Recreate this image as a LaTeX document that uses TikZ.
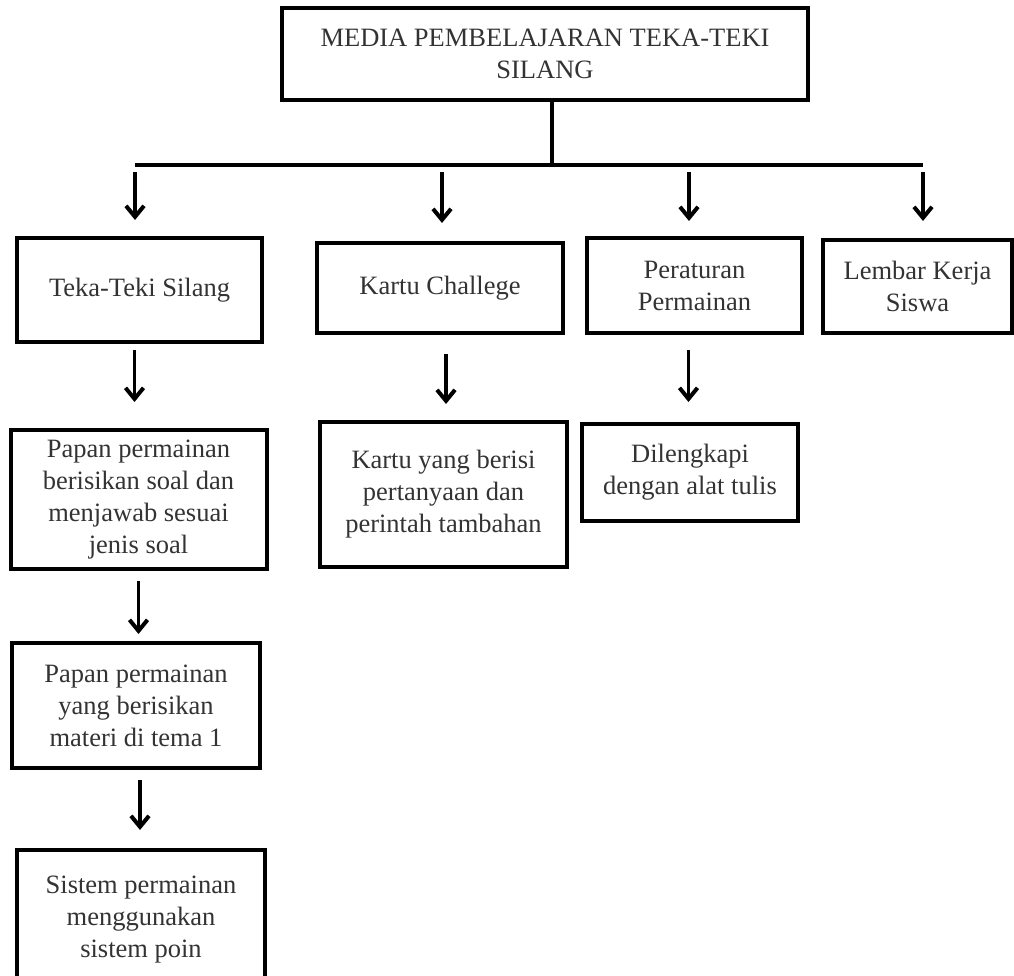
\documentclass[tikz,border=0pt]{standalone}
\usepackage{fontspec}
\setmainfont{Liberation Serif}
\usetikzlibrary{arrows.meta,positioning}
\begin{document}
\begin{tikzpicture}[x=1pt, y=-1pt, >={Straight Barb[length=11pt,width=18pt,line width=4pt]}]
        \tikzstyle{box} = [draw, line width=4pt, rectangle, align=center, inner sep=0pt, text=black!80, font=\fontsize{26.5}{32}\selectfont];
        \tikzstyle{link} = [line width=3.5pt];
        \tikzstyle{arrow} = [->, line width=3.5pt];

        \clip (0,0) rectangle (1014,976);

        \node(media)[box, minimum width=526pt, minimum height=92pt] at (545,54){MEDIA PEMBELAJARAN TEKA-TEKI\\SILANG};

        \node(teka)[box, minimum width=245pt, minimum height=104pt] at (139.5,290){Teka-Teki Silang};
        \node(kartu)[box, minimum width=246pt, minimum height=90pt] at (440,288){Kartu Challege};
        \node(aturan)[box, minimum width=215pt, minimum height=95pt] at (694.5,285.5){Peraturan\\Permainan};
        \node(lembar)[box, minimum width=189pt, minimum height=93pt] at (917.5,286.5){Lembar Kerja\\Siswa};

        \node(papansoal)[box, minimum width=256pt, minimum height=139pt, below=84pt of teka, xshift=-1pt]{Papan permainan\\berisikan soal dan\\menjawab sesuai\\jenis soal};
        \node(papanmateri)[box, minimum width=248pt, minimum height=125pt, below=70pt of papansoal, xshift=-2.5pt]{Papan permainan\\yang berisikan\\materi di tema 1};
        \node(sistem)[box, minimum width=248pt, minimum height=140pt, below=78pt of papanmateri, xshift=5pt]{Sistem permainan\\menggunakan\\sistem poin};

        \node(kartuisi)[box, minimum width=247pt, minimum height=145pt, below=85pt of kartu, xshift=3.5pt]{Kartu yang berisi\\pertanyaan dan\\perintah tambahan};
        \node(alat)[box, minimum width=216pt, minimum height=97pt, below=87pt of aturan, xshift=-4.5pt]{Dilengkapi\\dengan alat tulis};

        % cabang dari judul
        \coordinate(trunk) at (552,165);
        \coordinate(busleft) at (135,165);
        \coordinate(busright) at (923,165);
        \draw [link] (media.south -| trunk) -- (trunk);
        \draw [link] (busleft) -- (busright);
        \draw [arrow, shorten <=7pt, shorten >=16pt] (busleft) -- (busleft |- teka.north);
        \draw [arrow, shorten <=7pt, shorten >=18pt] ([xshift=2pt]kartu.north |- trunk) -- ([xshift=2pt]kartu.north);
        \draw [arrow, shorten <=7pt, shorten >=15pt] ([xshift=-5.5pt]aturan.north |- trunk) -- ([xshift=-5.5pt]aturan.north);
        \draw [arrow, shorten <=7pt, shorten >=17pt] (busright) -- (busright |- lembar.north);

        \draw [arrow, shorten <=6pt, shorten >=26pt] ([xshift=-5pt]teka.south) -- ([xshift=-5pt]teka.south |- papansoal.north);
        \draw [arrow, shorten <=10pt, shorten >=7pt] (papansoal.south) -- (papansoal.south |- papanmateri.north);
        \draw [arrow, shorten <=10pt, shorten >=18pt] ([xshift=4pt]papanmateri.south) -- ([xshift=4pt]papanmateri.south |- sistem.north);
        \draw [arrow, shorten <=19pt, shorten >=16pt] ([xshift=6pt]kartu.south) -- ([xshift=6pt]kartu.south |- kartuisi.north);
        \draw [arrow, shorten <=15pt, shorten >=20pt] ([xshift=-6pt]aturan.south) -- ([xshift=-6pt]aturan.south |- alat.north);
\end{tikzpicture}
\end{document}
